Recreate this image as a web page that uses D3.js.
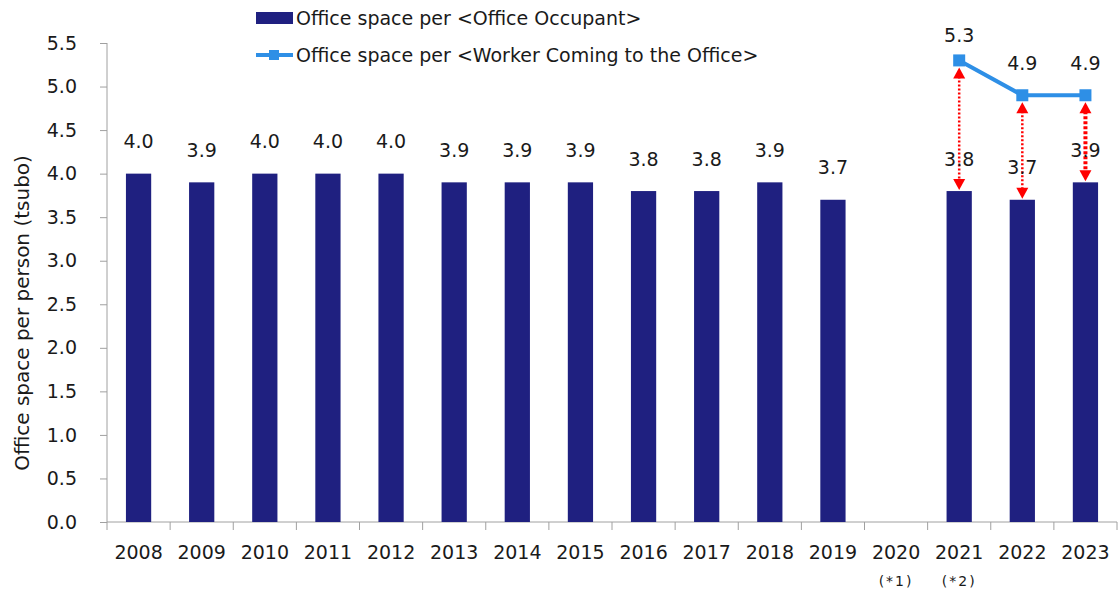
<!DOCTYPE html>
<html>
<head>
<meta charset="utf-8">
<script src="https://cdn.jsdelivr.net/npm/d3@7"></script>
<style>
  body { margin: 0; background: #fff; }
  text { font-family: "DejaVu Sans", Verdana, sans-serif; fill: #1a1a1a; }
</style>
</head>
<body>
<svg id="chart" width="1118" height="593"></svg>
<script>
// chart data
var years = ['2008', '2009', '2010', '2011', '2012', '2013', '2014', '2015',
             '2016', '2017', '2018', '2019', '2020', '2021', '2022', '2023'];
var occupantValues = [4.0, 3.9, 4.0, 4.0, 4.0, 3.9, 3.9, 3.9,
                      3.8, 3.8, 3.9, 3.7, null, 3.8, 3.7, 3.9];
var workerYears = ['2021', '2022', '2023'];
var workerValues = [5.3, 4.9, 4.9];
var yTicks = [0, 0.5, 1, 1.5, 2, 2.5, 3, 3.5, 4, 4.5, 5, 5.5];
var footnotes = [{ year: '2020', text: '(*1)' }, { year: '2021', text: '(*2)' }];

var barColor = '#1f2080';
var lineColor = '#2e8fe6';
var arrowColor = '#ff0000';
var axisColor = '#a0a0a0';
var fontSize = 19;

var svg = d3.select('#chart');
var plotLeft = 107, plotRight = 1117, plotTop = 43, plotBottom = 522;

var x = d3.scaleBand().domain(years).range([plotLeft, plotRight])
    .paddingInner(0.6).paddingOuter(0.3);
var y = d3.scaleLinear().domain([0, 5.5]).range([plotBottom, plotTop]);

// y axis
var yAxis = svg.append('g').attr('transform', 'translate(' + plotLeft + ',0)')
    .call(d3.axisLeft(y).tickValues(yTicks).tickSize(7).tickPadding(23)
        .tickFormat(d3.format('.1f')));
yAxis.selectAll('path, line').attr('stroke', axisColor);
yAxis.select('path').attr('d', 'M0,' + plotTop + 'V' + plotBottom);
yAxis.selectAll('text').attr('font-size', fontSize).attr('fill', '#1a1a1a')
    .style('font-family', '"DejaVu Sans", sans-serif');

// x axis (ticks between categories, Excel style)
var xAxisG = svg.append('g');
xAxisG.append('line').attr('x1', plotLeft).attr('x2', plotRight)
    .attr('y1', plotBottom).attr('y2', plotBottom).attr('stroke', axisColor);
var step = x.step();
d3.range(years.length + 1).forEach(function (i) {
    var xx = plotLeft + i * step;
    xAxisG.append('line').attr('x1', xx).attr('x2', xx)
        .attr('y1', plotBottom).attr('y2', plotBottom + 8).attr('stroke', axisColor);
});
xAxisG.selectAll('text.year').data(years).enter().append('text')
    .attr('class', 'year')
    .attr('x', function (d) { return x(d) + x.bandwidth() / 2; })
    .attr('y', 552).attr('dy', '0.35em')
    .attr('text-anchor', 'middle').attr('font-size', fontSize)
    .text(function (d) { return d; });
xAxisG.selectAll('text.note').data(footnotes).enter().append('text')
    .attr('class', 'note')
    .attr('x', function (d) { return x(d.year) + x.bandwidth() / 2; })
    .attr('y', 581).attr('dy', '0.35em')
    .attr('text-anchor', 'middle').attr('font-size', 14)
    .attr('letter-spacing', 2)
    .text(function (d) { return d.text; });

// y axis title
svg.append('text')
    .attr('transform', 'translate(22,313) rotate(-90)')
    .attr('text-anchor', 'middle').attr('dy', '0.35em').attr('font-size', 20)
    .text('Office space per person (tsubo)');

// bars
var barData = years.map(function (d, i) { return { year: d, value: occupantValues[i] }; })
    .filter(function (d) { return d.value != null; });
svg.selectAll('rect.bar').data(barData).enter().append('rect')
    .attr('class', 'bar')
    .attr('x', function (d) { return x(d.year); })
    .attr('width', x.bandwidth())
    .attr('y', function (d) { return y(d.value); })
    .attr('height', function (d) { return plotBottom - y(d.value); })
    .attr('fill', barColor);

// red dotted double arrows between line points and bars
var lineData = workerYears.map(function (d, i) {
    var bi = years.indexOf(d);
    return { year: d, value: workerValues[i], bar: occupantValues[bi] };
});
var arrowG = svg.append('g');
lineData.forEach(function (d, i) {
    var cx = x(d.year) + x.bandwidth() / 2;
    var y1 = y(d.value) + 7, y2 = y(d.bar) - 1;
    var thick = i === 2;
    arrowG.append('line').attr('x1', cx).attr('x2', cx)
        .attr('y1', y1 + 9).attr('y2', y2 - 9)
        .attr('stroke', arrowColor).attr('stroke-width', thick ? 4 : 2.5)
        .attr('stroke-dasharray', thick ? '3,2' : '2,2');
    arrowG.append('path')
        .attr('d', 'M' + cx + ',' + y1 + 'l-6,11h12z')
        .attr('fill', arrowColor);
    arrowG.append('path')
        .attr('d', 'M' + cx + ',' + y2 + 'l-6,-11h12z')
        .attr('fill', arrowColor);
});

// line series
var line = d3.line()
    .x(function (d) { return x(d.year) + x.bandwidth() / 2; })
    .y(function (d) { return y(d.value); });
svg.append('path').datum(lineData)
    .attr('d', line).attr('fill', 'none')
    .attr('stroke', lineColor).attr('stroke-width', 4);
svg.selectAll('rect.marker').data(lineData).enter().append('rect')
    .attr('class', 'marker')
    .attr('x', function (d) { return x(d.year) + x.bandwidth() / 2 - 6; })
    .attr('y', function (d) { return y(d.value) - 6; })
    .attr('width', 12).attr('height', 12)
    .attr('fill', lineColor);

// data labels
svg.selectAll('text.barlabel').data(barData).enter().append('text')
    .attr('class', 'barlabel')
    .attr('x', function (d) { return x(d.year) + x.bandwidth() / 2; })
    .attr('y', function (d) { return y(d.value) - 32; })
    .attr('dy', '0.35em').attr('text-anchor', 'middle').attr('font-size', fontSize)
    .text(function (d) { return d3.format('.1f')(d.value); });
svg.selectAll('text.linelabel').data(lineData).enter().append('text')
    .attr('class', 'linelabel')
    .attr('x', function (d) { return x(d.year) + x.bandwidth() / 2; })
    .attr('y', function (d) { return Math.max(y(d.value) - 32, 35); })
    .attr('dy', '0.35em').attr('text-anchor', 'middle').attr('font-size', fontSize)
    .text(function (d) { return d3.format('.1f')(d.value); });

// legend
var legend = svg.append('g');
legend.append('rect').attr('x', 256).attr('y', 12).attr('width', 37).attr('height', 12)
    .attr('fill', barColor);
legend.append('text').attr('x', 296).attr('y', 18).attr('dy', '0.35em')
    .attr('font-size', fontSize).text('Office space per <Office Occupant>');
legend.append('line').attr('x1', 256).attr('x2', 293).attr('y1', 55).attr('y2', 55)
    .attr('stroke', lineColor).attr('stroke-width', 4);
legend.append('rect').attr('x', 269).attr('y', 50).attr('width', 10).attr('height', 10)
    .attr('fill', lineColor);
legend.append('text').attr('x', 296).attr('y', 55).attr('dy', '0.35em')
    .attr('font-size', fontSize).text('Office space per <Worker Coming to the Office>');
</script>
</body>
</html>
